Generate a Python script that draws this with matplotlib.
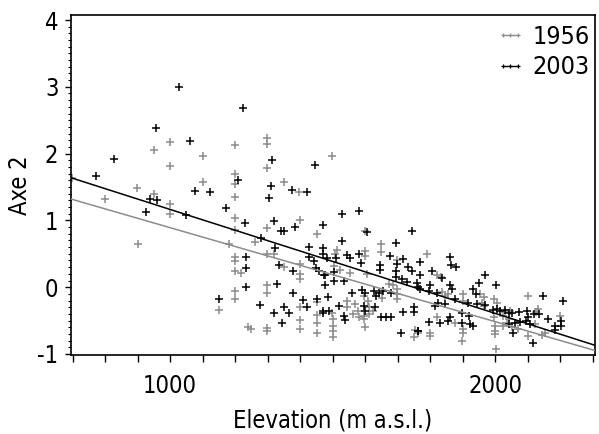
import matplotlib
matplotlib.use("Agg")
import matplotlib.pyplot as plt
from matplotlib.lines import Line2D
from matplotlib.ticker import MultipleLocator, FixedLocator

# ---- data ----
x_2003 = [771, 827, 1028, 1225, 958, 1062, 1313, 1208, 1078, 1123, 1310, 1304, 1375, 939, 959, 927, 1050, 1171,
          1446, 1422, 1529, 1581,
          1231, 1281, 1320, 1342, 1350, 1385, 1322, 1234, 1234, 1335, 1379, 1234, 1329, 1377, 1151, 1275, 1318, 1350, 1366, 1345,
          1469, 1428, 1469, 1469, 1428, 1443, 1449, 1458, 1472, 1410, 1421, 1451, 1469,
          1607, 1745, 1530, 1694, 1675, 1716, 1582, 1482, 1509, 1544, 1554,
          1588, 1646, 1646, 1699, 1733, 1744, 1503, 1695, 1695, 1713, 1730, 1759, 1762, 1477, 1503, 1534, 1477, 1560, 1590,
          1600, 1628, 1641, 1656, 1679, 1633, 1487, 1518, 1595, 1600, 1631, 1649, 1665, 1679, 1470, 1490, 1535, 1539, 1716,
          1749, 1749, 1711, 1764,
          1862, 1865, 1879, 1769, 1769, 1807, 1836, 1969, 1949, 2002, 1769, 1798, 1795, 1821, 1862, 1867, 1877, 1825, 1846,
          1815, 1931, 1942, 1916, 1943, 1969, 1992, 2005, 2015, 2031, 2043, 1897, 1918, 1923, 1933, 1897, 1856, 1862, 1831,
          1795, 1764,
          2146, 2210, 2051, 2072, 2097, 2118, 2136, 2203, 2203, 2185, 2185, 2162, 2041, 2062, 2077, 2094, 2108, 2101, 2056, 2115]
y_2003 = [1.67, 1.92, 3.00, 2.69, 2.39, 2.19, 1.91, 1.61, 1.44, 1.43, 1.52, 1.34, 1.45, 1.32, 1.30, 1.13, 1.08, 1.18,
          1.83, 1.43, 1.10, 1.14,
          0.96, 0.74, 0.99, 0.84, 0.84, 0.90, 0.59, 0.45, 0.29, 0.33, 0.24, 0.01, 0.05, -0.08, -0.18, -0.26, -0.38, -0.29, -0.38, -0.54,
          0.93, 0.60, 0.59, 0.50, 0.45, 0.39, 0.28, 0.24, 0.19, -0.19, -0.29, -0.18, -0.38,
          0.83, 0.84, 0.69, 0.66, 0.47, 0.42, 0.49, 0.44, 0.44, 0.48, 0.43,
          0.36, 0.33, 0.26, 0.35, 0.30, 0.24, 0.23, 0.24, 0.15, 0.12, 0.08, 0.06, 0.00, 0.18, 0.09, 0.10, 0.03, -0.08, -0.04,
          -0.08, -0.05, -0.09, -0.06, -0.09, -0.13, -0.14, -0.28, -0.28, -0.35, -0.29, -0.44, -0.45, -0.45, -0.36, -0.35, -0.43, -0.49, -0.37,
          -0.37, -0.29, -0.69, -0.65,
          0.45, 0.33, 0.30, 0.38, 0.19, 0.24, 0.14, 0.18, 0.06, 0.03, -0.03, 0.04, -0.05, -0.08, 0.03, -0.02, -0.17, -0.23, -0.25,
          -0.28, -0.03, -0.10, -0.23, -0.25, -0.27, -0.34, -0.32, -0.35, -0.34, -0.38, -0.38, -0.43, -0.55, -0.58, -0.53, -0.50, -0.45, -0.53,
          -0.52, -0.65,
          -0.13, -0.20, -0.38, -0.37, -0.35, -0.40, -0.40, -0.50, -0.58, -0.58, -0.64, -0.48, -0.55, -0.53, -0.52, -0.50, -0.55, -0.45, -0.69, -0.84]

x_1956 = [698, 800, 899, 950, 951, 1000, 1000, 1000, 1000, 1101, 1101, 1199, 1199, 1199, 1199, 1298, 1298, 1298, 1350, 1397, 1199, 1499,
          901, 1199, 1181, 1261, 1298, 1298, 1320, 1199, 1199, 1199, 1219, 1350, 1398, 1298, 1298, 1199, 1199, 1151, 1398, 1398, 1398,
          1241, 1249, 1298, 1298,
          1401, 1451, 1401, 1401, 1451, 1451, 1451, 1451,
          1600, 1649, 1649, 1697, 1600, 1600, 1513, 1508,
          1503, 1523, 1552, 1605, 1672, 1687, 1699, 1651, 1697, 1699, 1595, 1610, 1544, 1544, 1569, 1579, 1613, 1613, 1625, 1498,
          1501, 1501, 1501, 1501, 1562, 1580, 1595, 1595, 1600, 1754, 1761, 1749,
          1789, 1821, 1834, 1836, 1856, 1846, 1902, 1902, 1954, 1964, 1959, 1964, 1995, 2005, 1902, 1902, 1897, 1995, 2000, 2000,
          2000, 1877, 1821, 1800, 1800, 2023, 2023, 2041, 2036, 2002,
          2101, 2133, 2125, 2198, 2121, 2051, 2070, 2101, 2154, 2045, 2030, 2143]
y_1956 = [1.64, 1.32, 1.49, 2.05, 1.39, 2.17, 1.81, 1.24, 1.09, 1.97, 1.57, 2.13, 1.69, 1.55, 1.35, 2.23, 2.15, 1.79, 1.57, 1.43, 1.03, 1.97,
          0.64, 0.85, 0.64, 0.67, 0.89, 0.50, 0.49, 0.45, 0.39, 0.24, 0.21, 0.30, 0.20, 0.03, -0.08, -0.06, -0.17, -0.34, -0.30, -0.49, -0.62,
          -0.59, -0.62, -0.61, -0.65,
          1.00, 0.80, 0.35, 0.12, -0.22, -0.41, -0.54, -0.69,
          0.84, 0.64, 0.52, 0.40, 0.54, 0.47, 0.55, 0.49,
          0.31, 0.26, 0.21, 0.20, 0.05, 0.04, -0.03, -0.16, -0.10, -0.18, -0.13, -0.20, -0.21, -0.29, -0.25, -0.35, -0.30, -0.40, -0.35, -0.38,
          -0.48, -0.58, -0.65, -0.74, -0.40, -0.44, -0.43, -0.48, -0.59, -0.64, -0.68, -0.75,
          0.50, 0.18, 0.15, -0.07, -0.10, -0.13, -0.10, -0.20, -0.10, -0.15, -0.23, -0.28, -0.18, -0.23, -0.63, -0.68, -0.80, -0.45, -0.58, -0.65,
          -0.70, -0.53, -0.45, -0.68, -0.73, -0.43, -0.58, -0.48, -0.53, -0.93,
          -0.13, -0.33, -0.37, -0.43, -0.55, -0.60, -0.62, -0.73, -0.68, -0.36, -0.37, -0.72]

# regression lines: (slope, intercept)
fit_1956 = (-0.001407, 2.298)
fit_2003 = (-0.001556, 2.72)
x_range = [695, 2307]

series = ["1956", "2003"]
colors = {"1956": "#8c8c8c", "2003": "#000000"}

plt.rcParams["font.family"] = ["DejaVu Sans"]
plt.rcParams["font.stretch"] = "condensed"
plt.rcParams["font.weight"] = "light"
plt.rcParams["axes.unicode_minus"] = False

fig = plt.figure(figsize=(5.99, 4.34), dpi=100)
ax = fig.add_axes([71 / 599, 79 / 434, 524 / 599, 340 / 434])

data = {"1956": (x_1956, y_1956, fit_1956), "2003": (x_2003, y_2003, fit_2003)}
for s in series:
    xs, ys, (m, b) = data[s]
    ax.plot(xs, ys, linestyle="none", marker="+", ms=6, mew=1.1, color=colors[s], zorder=3 if s == "2003" else 2)
    ax.plot(x_range, [m * x_range[0] + b, m * x_range[1] + b], color=colors[s], lw=1.1, zorder=4)

ax.set_xlim(695, 2307)
ax.set_ylim(-1.015, 4.075)

ax.xaxis.set_major_locator(FixedLocator([1000, 2000]))
ax.xaxis.set_minor_locator(MultipleLocator(100))
ax.yaxis.set_major_locator(MultipleLocator(1))
ax.yaxis.set_minor_locator(MultipleLocator(0.1))
ax.tick_params(axis="x", which="both", direction="out", length=5, width=1, labelsize=17, pad=9)
ax.tick_params(axis="y", which="major", direction="out", length=4, width=1, labelsize=17, pad=5)
ax.tick_params(axis="y", which="minor", direction="out", length=2, width=0.8)
for sp in ax.spines.values():
    sp.set_linewidth(1.2)

ax.set_xlabel("Elevation (m a.s.l.)", fontsize=17, labelpad=7)
ax.set_ylabel("Axe 2", fontsize=17)
ax.yaxis.set_label_coords(-0.074, 0.5)

handles = [Line2D([], [], color=colors[s], marker="+", ms=3.5, mew=0.9, lw=1) for s in series]
ax.legend(handles, series, loc="upper right", bbox_to_anchor=(0.99, 0.97), frameon=False, numpoints=3,
          handlelength=1.2, handletextpad=0.3, labelspacing=0.25, fontsize=18, borderaxespad=0, borderpad=0)

fig.savefig("out.png", dpi=100)
